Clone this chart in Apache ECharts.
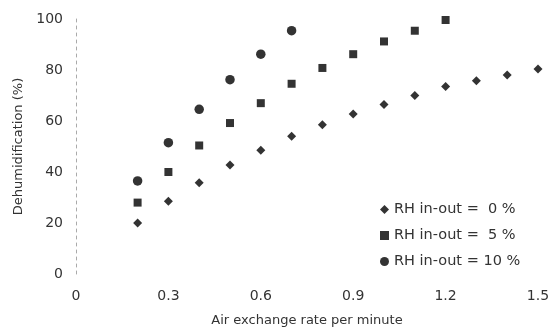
<!DOCTYPE html>
<html>
<head>
<meta charset="utf-8">
<script src="https://cdn.jsdelivr.net/npm/echarts@6/dist/echarts.min.js"></script>
<style>
  html, body { margin: 0; padding: 0; background: #fff; }
  #chart { width: 560px; height: 332px; }
</style>
</head>
<body>
<div id="chart"></div>
<script>
// air exchange rate per minute
const rate0 = [0.2, 0.3, 0.4, 0.5, 0.6, 0.7, 0.8, 0.9, 1.0, 1.1, 1.2, 1.3, 1.4, 1.5];
const dehum0 = [20, 28.5, 35.8, 42.7, 48.5, 54, 58.5, 62.7, 66.5, 70, 73.5, 75.8, 78, 80.4];

const rate5 = [0.2, 0.3, 0.4, 0.5, 0.6, 0.7, 0.8, 0.9, 1.0, 1.1, 1.2];
const dehum5 = [28, 40, 50.4, 59.2, 67, 74.6, 80.8, 86.2, 91.2, 95.4, 99.6];

const rate10 = [0.2, 0.3, 0.4, 0.5, 0.6, 0.7];
const dehum10 = [36.5, 51.5, 64.6, 76.2, 86.2, 95.4];

const seriesNames = ['RH in-out =  0 %', 'RH in-out =  5 %', 'RH in-out = 10 %'];

const pairs = (xs, ys) => xs.map((x, i) => [x, ys[i]]);

const chart = echarts.init(document.getElementById('chart'));
const font = 'DejaVu Sans, sans-serif';

const option = {
  backgroundColor: '#fff',
  animation: false,
  textStyle: { fontFamily: font },
  grid: { left: 76, right: 22, top: 19, bottom: 54 },
  legend: {
    orient: 'vertical',
    left: 375,
    top: 197,
    itemWidth: 9,
    itemHeight: 9,
    itemGap: 11,
    textStyle: { fontSize: 14.5, color: '#333', fontFamily: font },
    data: [
      { name: seriesNames[0], icon: 'diamond' },
      { name: seriesNames[1], icon: 'rect' },
      { name: seriesNames[2], icon: 'circle' }
    ]
  },
  xAxis: {
    type: 'value',
    min: 0,
    max: 1.5,
    interval: 0.3,
    name: 'Air exchange rate per minute',
    nameLocation: 'middle',
    nameGap: 40,
    nameTextStyle: { fontSize: 13, color: '#333' },
    axisLine: { show: false },
    axisTick: { show: false },
    splitLine: { show: false },
    axisLabel: {
      fontSize: 14, color: '#333', margin: 15,
      formatter: v => (v === 0 ? '0' : v.toFixed(1))
    }
  },
  yAxis: {
    type: 'value',
    min: 0,
    max: 100,
    interval: 20,
    name: 'Dehumidification (%)',
    nameLocation: 'middle',
    nameGap: 49,
    nameTextStyle: { fontSize: 13, color: '#333' },
    axisLine: { show: true, lineStyle: { color: '#aaa', type: [3, 4], width: 1 } },
    axisTick: { show: false },
    splitLine: { show: false },
    axisLabel: { fontSize: 14, color: '#333', margin: 13 }
  },
  series: [
    {
      name: seriesNames[0], type: 'scatter', symbol: 'diamond', symbolSize: 9,
      itemStyle: { color: '#000' }, data: pairs(rate0, dehum0)
    },
    {
      name: seriesNames[1], type: 'scatter', symbol: 'rect', symbolSize: 8,
      itemStyle: { color: '#000' }, data: pairs(rate5, dehum5)
    },
    {
      name: seriesNames[2], type: 'scatter', symbol: 'circle', symbolSize: 9.5,
      itemStyle: { color: '#000' }, data: pairs(rate10, dehum10)
    }
  ]
};
chart.setOption(option);
</script>
</body>
</html>
